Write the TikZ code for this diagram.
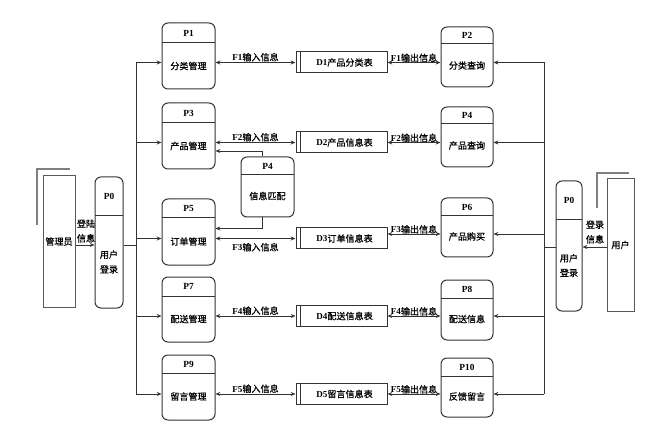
\documentclass[tikz,border=0pt]{standalone}
\usepackage{fontspec}
\setmainfont{Liberation Serif}
\newfontfamily\cjk[FakeBold=0.6]{Noto Sans CJK SC}
\usetikzlibrary{arrows.meta}
\newcommand\cn[1]{{\cjk #1}}
\newcommand\procnode[8]{%
  \node[procbox, minimum width={(#4-#2)*0.75pt}, minimum height={(#5-#3)*0.75pt}] (#1) at ({(#2+#4)/2},{(#3+#5)/2}) {};
  \draw[boxline] (#2,#6) -- (#4,#6);
  \node[ttl] (#1t) at ({(#2+#4)/2},{(#3+#6)/2}) {#7};
  \node[txt] (#1b) at ({(#2+#4)/2},{(#6+#5)/2}) {#8};
}
\newcommand\storenode[3]{%
  \node[storebox] (#1) at (341.5,#2) {};
  \draw[boxline] ([xshift=3.75pt]#1.north west) -- ([xshift=3.75pt]#1.south west);
  \node[txt] (#1l) at (344.5,#2) {#3};
}
\begin{document}
\begin{tikzpicture}[x=0.75pt,y=-0.75pt,
  txt/.style={font=\fontsize{6.8}{11}\selectfont, align=center, inner sep=0pt},
  ttl/.style={font=\fontsize{7}{8}\selectfont\bfseries, inner sep=0pt},
  lbl/.style={font=\fontsize{6.8}{8}\selectfont, inner sep=0pt},
  boxline/.style={draw=black!80, line width=0.75pt},
  procbox/.style={draw=black!80, line width=0.75pt, rounded corners=4.5pt, inner sep=0pt},
  storebox/.style={draw=black!80, line width=0.75pt, minimum width=68.25pt, minimum height=15.75pt, inner sep=0pt},
  entbox/.style={draw=black!65, line width=0.75pt, inner sep=0pt, font=\fontsize{6.8}{8}\selectfont},
  shadowline/.style={draw=black!50, line width=0.9pt},
  ln/.style={draw=black!80, line width=0.7pt},
  arr/.style={ln, -{Stealth[length=3.6pt,width=3pt]}},
  darr/.style={ln, {Stealth[length=3.6pt,width=3pt]}-{Stealth[length=3.6pt,width=3pt]}}
]
\useasboundingbox (0,0) rectangle (666,434);

% external entities
\node[entbox, minimum width=24pt, minimum height=98.25pt] (admin) at (59,241.5) {\cn{管理员}};
\draw[shadowline] (37,225) -- (37,169) -- (70,169);
\node[entbox, minimum width=20.25pt, minimum height=99pt] (user) at (620.5,245) {\cn{用户}};
\draw[shadowline] (597,208) -- (597,173) -- (629,173);

% processes
\procnode{p0l}{95}{177}{123}{308}{216}{P0}{\cn{用户}\\\cn{登录}}
\procnode{p0r}{556}{181}{582}{311}{220}{P0}{\cn{用户}\\\cn{登录}}
\procnode{p1}{162}{23}{215}{89}{43}{P1}{\cn{分类管理}}
\procnode{p3}{162}{103}{215}{169}{123}{P3}{\cn{产品管理}}
\procnode{p5}{162}{199}{215}{265}{218}{P5}{\cn{订单管理}}
\procnode{p7}{162}{277}{215}{342}{296}{P7}{\cn{配送管理}}
\procnode{p9}{162}{355}{215}{420}{373}{P9}{\cn{留言管理}}
\procnode{p2}{441}{27}{493}{87}{44}{P2}{\cn{分类查询}}
\procnode{p4}{441}{107}{493}{167}{124}{P4}{\cn{产品查询}}
\procnode{p6}{441}{198}{493}{257}{216}{P6}{\cn{产品购买}}
\procnode{p8}{441}{280}{493}{340}{298}{P8}{\cn{配送信息}}
\procnode{p10}{441}{358}{493}{417}{376}{P10}{\cn{反馈留言}}
\procnode{pm}{241}{157}{294}{217}{175}{P4}{\cn{信息匹配}}

% data stores
\storenode{d1}{62.5}{\textbf{D1}\cn{产品分类表}}
\storenode{d2}{142.5}{\textbf{D2}\cn{产品信息表}}
\storenode{d3}{238.5}{\textbf{D3}\cn{订单信息表}}
\storenode{d4}{316}{\textbf{D4}\cn{配送信息表}}
\storenode{d5}{394}{\textbf{D5}\cn{留言信息表}}

% helper coordinates
\coordinate (lbus) at (136,0);
\coordinate (rbus) at (544,0);
\coordinate (ly) at (0,245);
\coordinate (ry) at (0,247);
\coordinate (y6) at (0,234);
\coordinate (ym) at (262,0);
\coordinate (yt) at (0,151);
\coordinate (yb) at (0,228.5);

% left side
\draw[arr] (admin.east |- ly) -- (p0l.west |- ly);
\node[txt] (lgl) at (86,231) {\cn{登陆}\\\cn{信息}};
\draw[ln] (p0l.east |- ly) -- (lbus |- ly);
\draw[ln] (lbus |- d1) -- (lbus |- d5);
\draw[arr] (lbus |- d1) -- (p1.west |- d1);
\draw[arr] (lbus |- d2) -- (p3.west |- d2);
\draw[arr] (lbus |- d3) -- (p5.west |- d3);
\draw[arr] (lbus |- d4) -- (p7.west |- d4);
\draw[arr] (lbus |- d5) -- (p9.west |- d5);

% right side
\draw[arr] (user.west |- ry) -- (p0r.east |- ry);
\node[txt] (lgr) at (595,232) {\cn{登录}\\\cn{信息}};
\draw[ln] (p0r.west |- ry) -- (rbus |- ry);
\draw[ln] (rbus |- d1) -- (rbus |- d5);
\draw[arr] (rbus |- d1) -- (p2.east |- d1);
\draw[arr] (rbus |- d2) -- (p4.east |- d2);
\draw[arr] (rbus |- y6) -- (p6.east |- y6);
\draw[arr] (rbus |- d4) -- (p8.east |- d4);
\draw[arr] (rbus |- d5) -- (p10.east |- d5);

% process <-> store flows
\draw[darr] (p1.east |- d1) -- (d1.west) node[lbl, midway, yshift=4pt] {\textbf{F1}\cn{输入信息}};
\draw[darr] (d1.east) -- (p2.west |- d1) node[lbl, midway, yshift=3.5pt] {\textbf{F1}\cn{输出信息}};
\draw[darr] (p3.east |- d2) -- (d2.west) node[lbl, midway, yshift=4pt] {\textbf{F2}\cn{输入信息}};
\draw[darr] (d2.east) -- (p4.west |- d2) node[lbl, midway, yshift=3.5pt] {\textbf{F2}\cn{输出信息}};
\draw[darr] (p5.east |- d3) -- (d3.west) node[lbl, midway, yshift=-6.5pt] {\textbf{F3}\cn{输入信息}};
\draw[darr] (d3.east |- y6) -- (p6.west |- y6) node[lbl, midway, yshift=3.5pt] {\textbf{F3}\cn{输出信息}};
\draw[darr] (p7.east |- d4) -- (d4.west) node[lbl, midway, yshift=4pt] {\textbf{F4}\cn{输入信息}};
\draw[darr] (d4.east) -- (p8.west |- d4) node[lbl, midway, yshift=3.5pt] {\textbf{F4}\cn{输出信息}};
\draw[darr] (p9.east |- d5) -- (d5.west) node[lbl, midway, yshift=4pt] {\textbf{F5}\cn{输入信息}};
\draw[darr] (d5.east) -- (p10.west |- d5) node[lbl, midway, yshift=3.5pt] {\textbf{F5}\cn{输出信息}};

% info matching
\draw[arr] (pm.north -| ym) -- (ym |- yt) -- (p3.east |- yt);
\draw[arr] (pm.south -| ym) -- (ym |- yb) -- (p5.east |- yb);
\end{tikzpicture}
\end{document}
